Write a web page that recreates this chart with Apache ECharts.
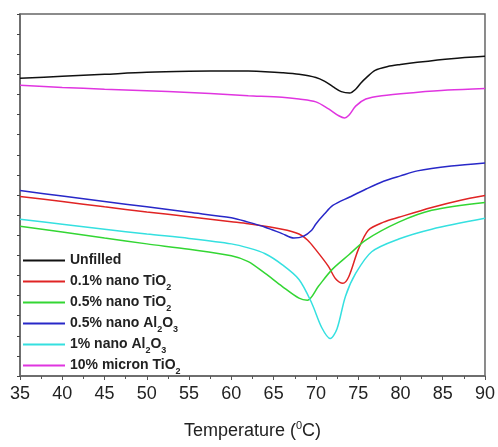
<!DOCTYPE html>
<html>
<head>
<meta charset="utf-8">
<script src="https://cdn.jsdelivr.net/npm/echarts@6/dist/echarts.min.js"></script>
<style>
  html, body { margin: 0; padding: 0; background: #fff; }
  #chart { width: 498px; height: 447px; }
</style>
</head>
<body>
<div id="chart"></div>
<script>
// temperatures (°C) and heat flow (arbitrary units)
const unfilledT = [35, 40, 45, 50, 55, 60, 62, 64, 66, 68, 70, 71, 72, 73, 74, 74.7, 75.3, 76, 77, 78.5, 80, 82, 86, 90];
const unfilledV = [14.80, 14.90, 15.00, 15.10, 15.15, 15.17, 15.16, 15.13, 15.08, 15.00, 14.84, 14.66, 14.39, 14.14, 14.07, 14.26, 14.56, 14.85, 15.20, 15.39, 15.49, 15.60, 15.78, 15.90];

const nanoTi01T = [35, 40, 45, 50, 55, 60, 62, 66, 68, 69, 70, 71.5, 72.3, 73.2, 73.9, 75, 76.2, 78, 79.8, 83.7, 87, 90];
const nanoTi01V = [8.92, 8.68, 8.41, 8.16, 7.92, 7.67, 7.57, 7.30, 7.06, 6.76, 6.27, 5.44, 4.85, 4.61, 4.95, 6.27, 7.25, 7.65, 7.89, 8.38, 8.73, 8.97];

const nanoTi05T = [35, 40, 45, 50, 55, 60, 62, 64, 66, 68, 69, 70.3, 71.9, 73.9, 75.9, 79.8, 83.7, 90];
const nanoTi05V = [7.45, 7.16, 6.86, 6.57, 6.30, 5.98, 5.69, 5.10, 4.46, 3.87, 3.77, 4.46, 5.29, 6.03, 6.76, 7.65, 8.24, 8.63];

const nanoAl05T = [35, 40, 45, 50, 55, 60, 62, 64, 66, 67.4, 68.5, 69.5, 70, 71, 72, 74, 76, 78, 80, 82, 86, 90];
const nanoAl05V = [9.22, 8.95, 8.68, 8.41, 8.14, 7.87, 7.65, 7.40, 7.08, 6.86, 6.94, 7.25, 7.56, 8.05, 8.48, 8.90, 9.31, 9.68, 9.95, 10.20, 10.44, 10.59];

const nanoAl1T = [35, 40, 45, 50, 55, 60, 62, 64, 66, 68, 69.5, 70.7, 71.7, 72.5, 73.5, 74.7, 76.6, 79.8, 83.7, 90];
const nanoAl1V = [7.79, 7.55, 7.30, 7.06, 6.84, 6.57, 6.37, 6.08, 5.54, 4.80, 3.63, 2.40, 1.86, 2.35, 3.97, 5.10, 6.18, 6.81, 7.30, 7.84];

const micronTiT = [35, 40, 45, 50, 55, 60, 62, 66, 68, 70, 71.5, 72.7, 73.4, 73.9, 74.7, 75.9, 77.8, 81.8, 85.6, 90];
const micronTiV = [14.46, 14.35, 14.26, 14.18, 14.10, 13.99, 13.94, 13.86, 13.77, 13.63, 13.28, 12.94, 12.83, 12.96, 13.42, 13.77, 13.94, 14.10, 14.22, 14.30];

const seriesNames = ["Unfilled", "0.1% nano TiO2", "0.5% nano TiO2", "0.5% nano Al2O3", "1% nano Al2O3", "10% micron TiO2"];
const legendLabels = {
  "Unfilled": "Unfilled",
  "0.1% nano TiO2": "0.1% nano TiO{s|2}",
  "0.5% nano TiO2": "0.5% nano TiO{s|2}",
  "0.5% nano Al2O3": "0.5% nano Al{s|2}O{s|3}",
  "1% nano Al2O3": "1% nano Al{s|2}O{s|3}",
  "10% micron TiO2": "10% micron TiO{s|2}"
};
const colors = ["#111111", "#e02424", "#33d633", "#2828c8", "#35e0e0", "#e035e0"];

const xTicks = { min: 35, max: 90, step: 5 };

const curves = [
  [unfilledT, unfilledV],
  [nanoTi01T, nanoTi01V],
  [nanoTi05T, nanoTi05V],
  [nanoAl05T, nanoAl05V],
  [nanoAl1T, nanoAl1V],
  [micronTiT, micronTiV]
];

const font = "'Liberation Sans', Arial, sans-serif";
const chart = echarts.init(document.getElementById("chart"));

chart.setOption({
  animation: false,
  color: colors,
  grid: { left: 20, right: 11, top: 14, bottom: 66, show: true, borderColor: "#666", borderWidth: 1.5 },
  legend: {
    orient: "vertical",
    left: 23,
    top: 250,
    padding: 0,
    icon: "rect",
    itemWidth: 42,
    itemHeight: 2,
    itemGap: 0,
    data: seriesNames,
    formatter: (name) => legendLabels[name],
    textStyle: {
      fontFamily: font,
      fontWeight: "bold",
      fontSize: 14,
      color: "#222",
      lineHeight: 21,
      rich: {
        s: { fontFamily: font, fontWeight: "bold", fontSize: 9, color: "#222", lineHeight: 8, verticalAlign: "bottom" }
      }
    }
  },
  xAxis: {
    type: "value",
    min: xTicks.min,
    max: xTicks.max,
    interval: xTicks.step,
    name: "Temperature ({sup|0}C)",
    nameLocation: "middle",
    nameGap: 44,
    nameTextStyle: {
      fontFamily: font,
      fontSize: 18,
      color: "#222",
      lineHeight: 22,
      rich: { sup: { fontFamily: font, fontSize: 11, color: "#222", lineHeight: 12, verticalAlign: "top" } }
    },
    axisLine: { lineStyle: { color: "#666", width: 1.5 } },
    axisTick: { length: 4, lineStyle: { color: "#555" } },
    minorTick: { show: true, splitNumber: 2, length: 3, lineStyle: { color: "#555" } },
    axisLabel: { fontFamily: font, fontSize: 18, color: "#222", margin: 9 },
    splitLine: { show: false }
  },
  yAxis: {
    type: "value",
    min: 0,
    max: 18,
    interval: 1,
    axisLine: { show: true, lineStyle: { color: "#666", width: 1.5 } },
    axisTick: { show: true, length: 3, lineStyle: { color: "#444" } },
    axisLabel: { show: false },
    splitLine: { show: false }
  },
  series: curves.map(([t, v], i) => ({
    name: seriesNames[i],
    type: "line",
    smooth: 0.3,
    symbol: "none",
    lineStyle: { width: 1.5, color: colors[i] },
    data: t.map((x, k) => [x, v[k]])
  }))
});
</script>
</body>
</html>
